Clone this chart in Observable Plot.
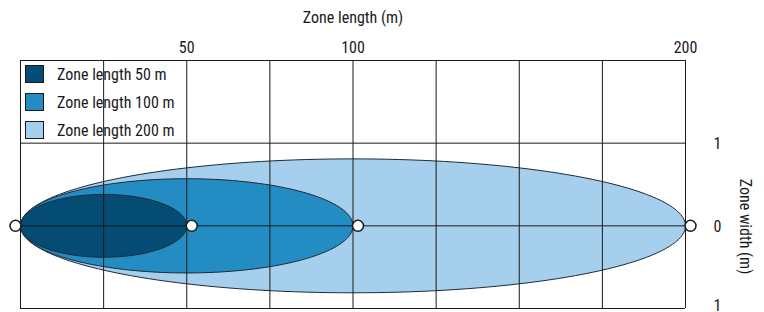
<!DOCTYPE html>
<html>
<head>
<meta charset="utf-8">
<script src="https://cdn.jsdelivr.net/npm/d3@7"></script>
<script src="https://cdn.jsdelivr.net/npm/@observablehq/plot@0.6"></script>
<style>
  body { margin: 0; background: #fff; }
  #wrap { position: relative; width: 764px; height: 312px; font-family: "Roboto Condensed", "Roboto", sans-serif; font-stretch: condensed; }
  #legend { position: absolute; left: 25px; top: 60px; font-size: 16px; color: #1a1a1a; }
  .row { display: flex; align-items: center; height: 28px; }
  .sw { width: 17px; height: 16px; border: 1px solid #1a1a1a; margin-right: 13px; }
</style>
</head>
<body>
<div id="wrap"></div>
<script>
// Data
const zoneLabels = ["Zone length 50 m", "Zone length 100 m", "Zone length 200 m"];
const zoneLengths = [50, 100, 200];          // metres
const zoneHalfWidths = [0.38, 0.57, 0.81];   // metres
const zoneColors = ["#044c73", "#228cc3", "#a6cfee"];
const xTicks = [50, 100, 200];
const yTicks = [-1, 0, 1];
const xGrid = [0, 25, 50, 75, 100, 125, 150, 175, 200];
const yGrid = [-1, 0, 1, 2];
const xTitle = "Zone length (m)";
const yTitle = "Zone width (m)";

// ellipse outlines built from each zone's length and half-width
const zones = zoneLengths.map((L, i) => ({L, h: zoneHalfWidths[i], color: zoneColors[i], label: zoneLabels[i]}));
const drawOrder = zones.slice().reverse();
const outline = drawOrder.flatMap(z =>
  d3.range(0, 361, 2).map(deg => {
    const t = deg * Math.PI / 180;
    return {zone: z.label, color: z.color, x: z.L / 2 - (z.L / 2) * Math.cos(t), y: z.h * Math.sin(t)};
  })
);

const font = '"Roboto Condensed", "Roboto", sans-serif';

const chart = Plot.plot({
  width: 764,
  height: 312,
  marginLeft: 20,
  marginRight: 79,
  marginTop: 60,
  marginBottom: 4,
  style: {fontFamily: font, fontStretch: "condensed", fontSize: "16px", color: "#1a1a1a", background: "#fff", overflow: "visible"},
  x: {domain: [0, 200], axis: null},
  y: {domain: [-1, 2], axis: null},
  marks: [
    Plot.line(outline, {x: "x", y: "y", z: "zone", fill: "color", stroke: "#1f2a36", strokeWidth: 1, curve: "linear"}),
    Plot.ruleX(xGrid, {x: d => d, stroke: "#1a1a1a", strokeWidth: 1}),
    Plot.ruleY(yGrid, {y: d => d, stroke: "#1a1a1a", strokeWidth: 1}),
    Plot.dot([0], {x: d => d, y: 0, r: 5.5, fill: "white", stroke: "#1a1a1a", strokeWidth: 1.5, dx: -5}),
    Plot.dot(zoneLengths, {x: d => d, y: 0, r: 5.5, fill: "white", stroke: "#1a1a1a", strokeWidth: 1.5, dx: 5}),
    Plot.text(xTicks, {x: d => d, frameAnchor: "top", dy: -8, lineAnchor: "bottom", text: d => String(d), fill: "#1a1a1a"}),
    Plot.text(yTicks.filter(d => d >= 0), {y: d => d, frameAnchor: "right", dx: 32, dy: 1, textAnchor: "middle", text: d => String(Math.abs(d)), fill: "#1a1a1a"}),
    Plot.text(yTicks.filter(d => d < 0), {y: d => d, frameAnchor: "right", dx: 32, dy: -3, textAnchor: "middle", text: d => String(Math.abs(d)), fill: "#1a1a1a"}),
    Plot.text([xTitle], {frameAnchor: "top", dy: -38, lineAnchor: "bottom", text: d => d, fill: "#1a1a1a"}),
    Plot.text([yTitle], {frameAnchor: "right", dx: 60, dy: 42, rotate: 90, textAnchor: "middle", text: d => d, fill: "#1a1a1a"})
  ]
});

const wrap = document.getElementById("wrap");
wrap.appendChild(chart);
const legend = document.createElement("div");
legend.id = "legend";
zones.forEach(z => {
  const row = document.createElement("div");
  row.className = "row";
  const sw = document.createElement("div");
  sw.className = "sw";
  sw.style.background = z.color;
  const t = document.createElement("span");
  t.textContent = z.label;
  row.appendChild(sw);
  row.appendChild(t);
  legend.appendChild(row);
});
wrap.appendChild(legend);
</script>
</body>
</html>
